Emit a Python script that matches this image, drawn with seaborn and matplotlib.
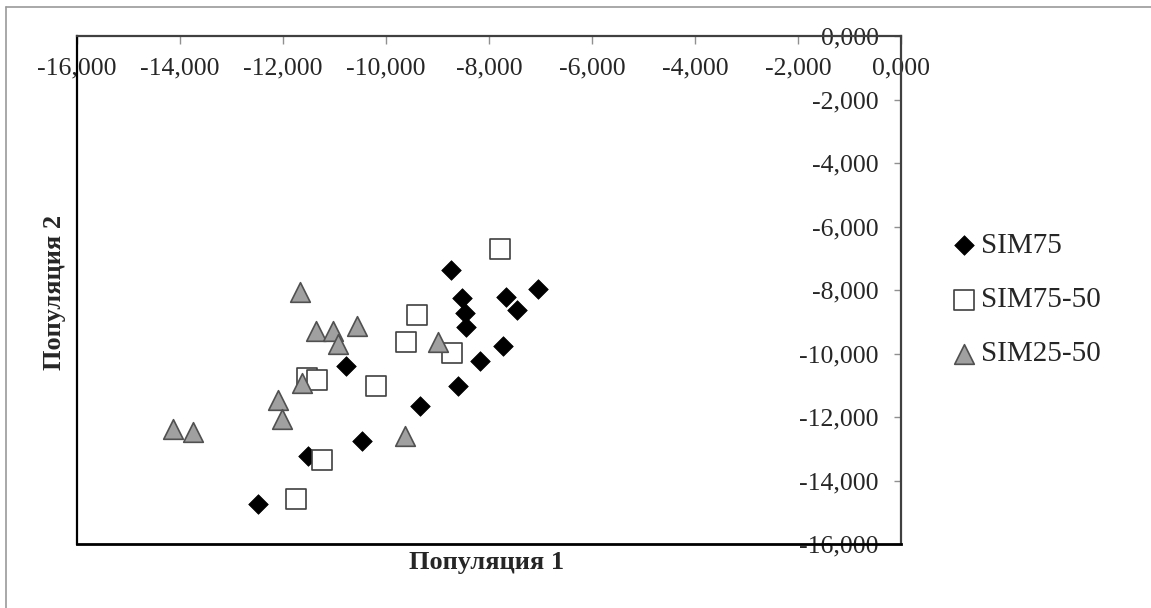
import numpy as np
import pandas as pd
import matplotlib
matplotlib.use("Agg")
import matplotlib.pyplot as plt
from matplotlib.lines import Line2D
import seaborn as sns

# ---- data ----
sim75_x = [-8738, -8518, -8466, -8446, -7670, -7054, -7450, -7722, -8175, -8596,
           -9340, -10460, -10782, -11508, -12479]
sim75_y = [-7370, -8243, -8734, -9156, -8211, -7968, -8630, -9754, -10236, -11014,
           -11654, -12746, -10394, -13219, -14750]

sim7550_x = [-7780, -9404, -9617, -8724, -10194, -11540, -11340, -11237, -11753]
sim7550_y = [-6699, -8787, -9647, -9975, -11024, -10772, -10825, -13364, -14573]

sim2550_x = [-11676, -11359, -11035, -10557, -10926, -8984, -11625, -12097, -12019,
             -14142, -13741, -9637]
sim2550_y = [-8063, -9282, -9282, -9124, -9701, -9647, -10939, -11465, -12063,
             -12388, -12472, -12589]

series_names = ["SIM75", "SIM75-50", "SIM25-50"]
tick_values = [-16000, -14000, -12000, -10000, -8000, -6000, -4000, -2000, 0]
tick_labels = ["-16,000", "-14,000", "-12,000", "-10,000", "-8,000", "-6,000",
               "-4,000", "-2,000", "0,000"]
x_title = "Популяция 1"
y_title = "Популяция 2"

sns.set_style("white")
plt.rcParams["font.family"] = ["Liberation Serif", "DejaVu Serif"]

W, H = 1151, 608
fig = plt.figure(figsize=(W / 100, H / 100), dpi=100)
ax = fig.add_axes([77 / W, 1 - 544 / H, 824 / W, 508 / H])

df1 = pd.DataFrame({"x": sim75_x, "y": sim75_y})
df2 = pd.DataFrame({"x": sim7550_x, "y": sim7550_y})
df3 = pd.DataFrame({"x": sim2550_x, "y": sim2550_y})

sns.scatterplot(data=df1, x="x", y="y", ax=ax, marker="D", s=100, color="black",
                edgecolor="black", linewidth=0.5, label=series_names[0], zorder=3)
sns.scatterplot(data=df2, x="x", y="y", ax=ax, marker="s", s=190, color="white",
                edgecolor="#404040", linewidth=1.2, label=series_names[1], zorder=3)
sns.scatterplot(data=df3, x="x", y="y", ax=ax, marker="^", s=200, color="#a0a0a0",
                edgecolor="#505050", linewidth=1.2, label=series_names[2], zorder=3)

ax.set_xlim(-16000, 0)
ax.set_ylim(-16000, 0)
ax.set_xticks(tick_values)
ax.set_xticklabels(tick_labels)
ax.set_yticks(tick_values)
ax.set_yticklabels(tick_labels)

# x axis on top, labels below it (inside)
ax.xaxis.tick_top()
ax.tick_params(axis="x", direction="in", length=6, width=1, color="#909090",
               pad=-15.5, labelsize=18.5)
for lbl in ax.get_xticklabels():
    lbl.set_va("top")
# y axis on the right, labels to its left (inside)
ax.yaxis.tick_right()
ax.tick_params(axis="y", direction="in", length=5, width=1, color="#909090",
               pad=-16, labelsize=18.5)
for lbl in ax.get_yticklabels():
    lbl.set_ha("right")

for side in ["top", "right"]:
    ax.spines[side].set_color("#404040")
    ax.spines[side].set_linewidth(1.6)
ax.spines["left"].set_color("black")
ax.spines["left"].set_linewidth(1.6)
ax.spines["bottom"].set_color("black")
ax.spines["bottom"].set_linewidth(2.0)

ax.set_xlabel(x_title, fontsize=19, fontweight="bold")
ax.xaxis.set_label_position("bottom")
ax.xaxis.label.set_va("center")
ax.xaxis.set_label_coords((487 - 77) / 824, (544 - 563) / 508)

ax.set_ylabel(y_title, fontsize=19, fontweight="bold")
ax.yaxis.set_label_position("left")
ax.yaxis.label.set_va("center")
ax.yaxis.set_label_coords((55 - 77) / 824, (544 - 292) / 508)

ax.legend(loc="center left", bbox_to_anchor=(952 / W, 1 - 300 / H),
          bbox_transform=fig.transFigure, frameon=False, borderaxespad=0,
          borderpad=0, handlelength=0.8, handletextpad=0.2, labelspacing=0.95,
          prop={"family": "Liberation Serif", "size": 21})

# outer chart border (top and left)
fig.add_artist(Line2D([6 / W, 1], [1 - 7 / H, 1 - 7 / H], transform=fig.transFigure,
                      color="#9a9a9a", lw=1.2))
fig.add_artist(Line2D([6 / W, 6 / W], [0, 1 - 7 / H], transform=fig.transFigure,
                      color="#9a9a9a", lw=1.2))

fig.savefig("out.png", dpi=100, facecolor="white")
